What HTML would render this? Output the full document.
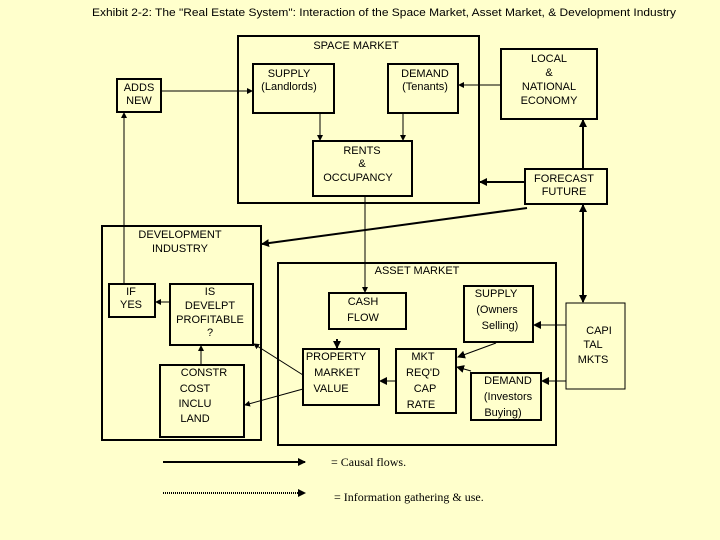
<!DOCTYPE html>
<html><head><meta charset="utf-8"><style>
html,body{margin:0;padding:0;background:#FFFFCC;}
svg{display:block;}
text{font-family:"Liberation Sans",sans-serif;font-size:11px;fill:#000;}
</style></head><body>
<svg width="720" height="540" viewBox="0 0 720 540" xmlns="http://www.w3.org/2000/svg">
<defs>
<marker id="a" markerWidth="8" markerHeight="8" refX="7" refY="4" orient="auto" markerUnits="userSpaceOnUse"><path d="M0,0 L8,4 L0,8 z" fill="#000"/></marker>
<marker id="s" markerWidth="6" markerHeight="6" refX="5" refY="3" orient="auto" markerUnits="userSpaceOnUse"><path d="M0,0 L6,3 L0,6 z" fill="#000"/></marker>
</defs>
<rect width="720" height="540" fill="#FFFFCC"/>
<text x="92" y="16" textLength="584" lengthAdjust="spacingAndGlyphs">Exhibit 2-2: The "Real Estate System": Interaction of the Space Market, Asset Market, &amp; Development Industry</text>
<g fill="none" stroke="#000" stroke-width="2">
<rect x="238" y="36" width="241" height="167"/>
<rect x="253" y="64" width="81" height="49"/>
<rect x="388" y="64" width="70" height="49"/>
<rect x="313" y="141" width="99" height="55"/>
<rect x="117" y="79" width="44" height="33"/>
<rect x="501" y="49" width="96" height="70"/>
<rect x="525" y="169" width="82" height="35"/>
<rect x="102" y="226" width="159" height="214"/>
<rect x="278" y="263" width="278" height="182"/>
<rect x="109" y="284" width="46" height="33"/>
<rect x="170" y="284" width="83" height="61"/>
<rect x="160" y="365" width="84" height="72"/>
<rect x="329" y="293" width="77" height="36"/>
<rect x="303" y="349" width="76" height="56"/>
<rect x="396" y="349" width="60" height="64"/>
<rect x="464" y="286" width="69" height="56"/>
<rect x="471" y="373" width="70" height="47"/>
</g>
<rect x="566" y="303" width="59" height="86" fill="none" stroke="#000" stroke-width="1"/>
<g stroke="#000" stroke-width="1" fill="none">
<line x1="161" y1="91" x2="252" y2="91" marker-end="url(#s)"/>
<line x1="501" y1="85" x2="459" y2="85" marker-end="url(#s)"/>
<line x1="320" y1="113" x2="320" y2="140" marker-end="url(#s)"/>
<line x1="403" y1="113" x2="403" y2="140" marker-end="url(#s)"/>
<line x1="124" y1="284" x2="124" y2="113" marker-end="url(#s)"/>
<line x1="365" y1="196" x2="365" y2="292" marker-end="url(#s)"/>
<line x1="170" y1="302" x2="156" y2="302" marker-end="url(#s)"/>
<line x1="201" y1="365" x2="201" y2="346" marker-end="url(#s)"/>
<line x1="303" y1="375" x2="254" y2="344" marker-end="url(#s)"/>
<line x1="303" y1="389" x2="245" y2="405" marker-end="url(#s)"/>
<line x1="496" y1="343" x2="458" y2="357" marker-end="url(#a)"/>
<line x1="471" y1="371" x2="457" y2="367" marker-end="url(#a)"/>
<line x1="566" y1="325" x2="534" y2="325" marker-end="url(#a)"/>
<line x1="566" y1="381" x2="542" y2="381" marker-end="url(#a)"/>
<line x1="396" y1="381" x2="380" y2="381" marker-end="url(#a)"/>
<line x1="527" y1="208" x2="262" y2="244" stroke-width="2" marker-end="url(#a)"/>
</g>
<g stroke="#000" stroke-width="2" fill="none">
<line x1="525" y1="182" x2="480" y2="182" marker-end="url(#a)"/>
<line x1="583" y1="169" x2="583" y2="120" marker-end="url(#a)"/>
<line x1="583" y1="300" x2="583" y2="205" marker-end="url(#a)"/>
<line x1="583" y1="205" x2="583" y2="302" marker-end="url(#a)"/>
<line x1="337" y1="339" x2="337" y2="348" marker-end="url(#a)"/>
<line x1="163" y1="462" x2="305" y2="462" marker-end="url(#a)"/>
<line x1="163" y1="493" x2="305" y2="493" stroke-dasharray="1,1" marker-end="url(#a)"/>
</g>
<g text-anchor="middle">
<text x="356" y="49">SPACE MARKET</text>
<text x="289" y="77">SUPPLY</text><text x="289" y="90">(Landlords)</text>
<text x="425" y="77">DEMAND</text><text x="425" y="90">(Tenants)</text>
<text x="139" y="91">ADDS</text><text x="139" y="104">NEW</text>
<text x="549" y="62">LOCAL</text><text x="549" y="76">&amp;</text><text x="549" y="90">NATIONAL</text><text x="549" y="104">ECONOMY</text>
<text x="362" y="154">RENTS</text><text x="362" y="167">&amp;</text><text x="358" y="181">OCCUPANCY</text>
<text x="564" y="182">FORECAST</text><text x="564" y="195">FUTURE</text>
<text x="180" y="238">DEVELOPMENT</text><text x="180" y="252">INDUSTRY</text>
<text x="417" y="274">ASSET MARKET</text>
<text x="131" y="295">IF</text><text x="131" y="308">YES</text>
<text x="210" y="295">IS</text><text x="210" y="309">DEVELPT</text><text x="210" y="323">PROFITABLE</text><text x="210" y="336">?</text>
<text x="363" y="305">CASH</text><text x="363" y="321">FLOW</text>
<text x="496" y="297">SUPPLY</text><text x="497" y="313">(Owners</text><text x="500" y="329">Selling)</text>
<text x="599" y="334">CAPI</text><text x="593" y="348">TAL</text><text x="593" y="363">MKTS</text>
<text x="336" y="360">PROPERTY</text><text x="337" y="376">MARKET</text><text x="331" y="392">VALUE</text>
<text x="423" y="360">MKT</text><text x="423" y="376">REQ'D</text><text x="425" y="392">CAP</text><text x="421" y="408">RATE</text>
<text x="508" y="384">DEMAND</text><text x="508" y="400">(Investors</text><text x="503" y="416">Buying)</text>
<text x="204" y="376">CONSTR</text><text x="195" y="392">COST</text><text x="195" y="407">INCLU</text><text x="195" y="422">LAND</text>
</g>
<text x="331" y="466" style="font-family:'Liberation Serif',serif;font-size:12px">= Causal flows.</text>
<text x="334" y="501" style="font-family:'Liberation Serif',serif;font-size:12px">= Information gathering &amp; use.</text>
</svg>
</body></html>
